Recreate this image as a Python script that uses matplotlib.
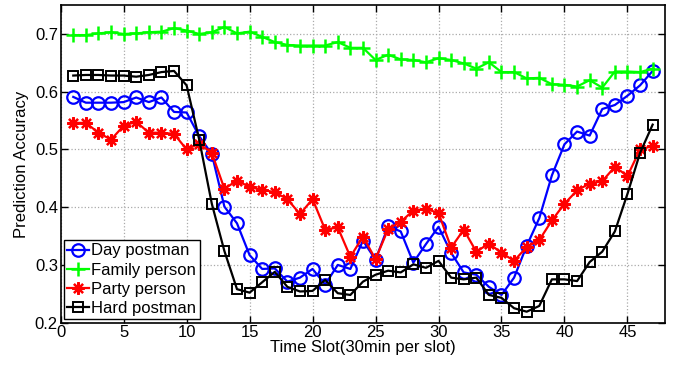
import matplotlib
matplotlib.use('Agg')
import matplotlib.pyplot as plt
import numpy as np

# time slots 1..47
slots = list(range(1, 48))

day_postman = [0.591, 0.581, 0.581, 0.581, 0.582, 0.590, 0.582, 0.590, 0.565, 0.564,
               0.523, 0.492, 0.401, 0.372, 0.317, 0.293, 0.294, 0.271, 0.278, 0.293,
               0.266, 0.300, 0.293, 0.342, 0.309, 0.367, 0.358, 0.304, 0.336, 0.366,
               0.321, 0.287, 0.283, 0.262, 0.248, 0.278, 0.333, 0.381, 0.455, 0.509,
               0.531, 0.524, 0.570, 0.577, 0.593, 0.611, 0.636]

family_person = [0.698, 0.698, 0.701, 0.703, 0.700, 0.701, 0.703, 0.704, 0.710, 0.706,
                 0.700, 0.703, 0.712, 0.701, 0.704, 0.695, 0.686, 0.681, 0.680, 0.680,
                 0.680, 0.686, 0.676, 0.676, 0.655, 0.664, 0.656, 0.655, 0.651, 0.658,
                 0.655, 0.649, 0.640, 0.651, 0.634, 0.634, 0.623, 0.624, 0.613, 0.612,
                 0.609, 0.620, 0.607, 0.635, 0.635, 0.634, 0.640]

party_person = [0.546, 0.546, 0.529, 0.517, 0.541, 0.548, 0.529, 0.529, 0.527, 0.500,
                0.510, 0.494, 0.432, 0.446, 0.435, 0.430, 0.426, 0.414, 0.388, 0.414,
                0.361, 0.365, 0.314, 0.349, 0.310, 0.362, 0.375, 0.394, 0.397, 0.390,
                0.330, 0.361, 0.323, 0.337, 0.321, 0.307, 0.331, 0.343, 0.377, 0.406,
                0.429, 0.441, 0.445, 0.470, 0.454, 0.500, 0.506]

hard_postman = [0.628, 0.629, 0.629, 0.628, 0.628, 0.626, 0.629, 0.634, 0.636, 0.611,
                0.517, 0.406, 0.324, 0.258, 0.252, 0.270, 0.288, 0.262, 0.254, 0.255,
                0.274, 0.251, 0.248, 0.271, 0.283, 0.290, 0.287, 0.301, 0.295, 0.307,
                0.278, 0.275, 0.278, 0.248, 0.243, 0.225, 0.219, 0.229, 0.275, 0.275,
                0.272, 0.305, 0.323, 0.358, 0.423, 0.494, 0.543]

plt.rcParams['font.family'] = ['Liberation Sans', 'DejaVu Sans']
plt.rcParams['font.size'] = 12

fig = plt.figure(figsize=(6.74, 3.65), dpi=100)
ax = fig.add_axes([0.090, 0.116, 0.897, 0.870])

lw = 1.6
ax.plot(slots, day_postman, color='#0000ff', marker='o', markersize=9,
        markerfacecolor='none', markeredgewidth=1.6, linewidth=lw, label='Day postman')
ax.plot(slots, family_person, color='#00ff00', marker='+', markersize=10,
        markeredgewidth=1.8, linewidth=lw, label='Family person')
ax.plot(slots, party_person, color='#ff0000', marker=(8, 2, 0), markersize=9,
        markeredgewidth=1.6, linewidth=lw, label='Party person')
ax.plot(slots, hard_postman, color='#000000', marker='s', markersize=7,
        markerfacecolor='none', markeredgewidth=1.4, linewidth=lw, label='Hard postman')

ax.set_xlim(0, 48)
ax.set_ylim(0.2, 0.75)
ax.set_xticks(range(0, 50, 5))
ax.set_yticks([0.2, 0.3, 0.4, 0.5, 0.6, 0.7])
ax.set_yticklabels(['0.2', '0.3', '0.4', '0.5', '0.6', '0.7'])
ax.tick_params(direction='in', top=True, right=True, length=5, width=1, pad=2)

ax.grid(True, linestyle=':', color='#aaaaaa', linewidth=0.9)
for s in ax.spines.values():
    s.set_linewidth(1.2)

ax.set_xlabel('Time Slot(30min per slot)', labelpad=0)
ax.set_ylabel('Prediction Accuracy', labelpad=4)

leg = ax.legend(loc='lower left', fancybox=False, edgecolor='black', framealpha=1,
                borderpad=0.2, labelspacing=0.25, handlelength=1.3, handletextpad=0.15,
                borderaxespad=0.2, fontsize=12)
leg.get_frame().set_linewidth(1.0)

fig.savefig('out.png', dpi=100)
